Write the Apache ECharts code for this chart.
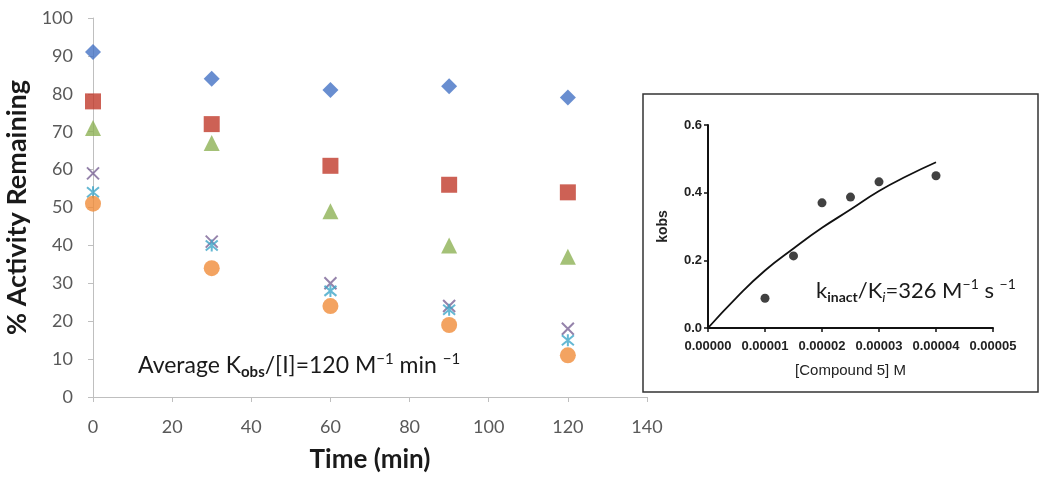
<!DOCTYPE html>
<html><head><meta charset="utf-8">
<script src="https://cdn.jsdelivr.net/npm/echarts@6/dist/echarts.min.js"></script>
<style>html,body{margin:0;padding:0;background:#fff}#c{width:1050px;height:480px}</style>
</head><body><div id="c"></div>
<script>
// Main chart data
const timePoints = [0, 30, 60, 90, 120];
const seriesBlue   = [91, 84, 81, 82, 79];
const seriesRed    = [78, 72, 61, 56, 54];
const seriesGreen  = [71, 67, 49, 40, 37];
const seriesPurple = [59, 41, 30, 24, 18];
const seriesCyan   = [54, 40, 28, 23, 15];
const seriesOrange = [51, 34, 24, 19, 11];
// Inset data
const concX   = [0.00001, 0.000015, 0.00002, 0.000025, 0.00003, 0.00004];
const kobsY   = [0.088, 0.213, 0.37, 0.387, 0.432, 0.45];
const fitX    = [0, 0.000005, 0.00001, 0.000015, 0.00002, 0.000025, 0.00003, 0.000035, 0.00004];
const fitY    = [0, 0.09, 0.17, 0.235, 0.296, 0.35, 0.405, 0.45, 0.49];

const pair = (xs, ys) => xs.map((x, i) => [x, ys[i]]);
const FONT = 'Lato';
const xPath = 'path://M0,0L10,10M10,0L0,10';
const starPath = 'path://M0,0L10,10M10,0L0,10M5,-1L5,11';

const chart = echarts.init(document.getElementById('c'));
const mk = (name, data, symbol, size, color, stroke) => ({
  name, type: 'scatter', xAxisIndex: 0, yAxisIndex: 0,
  data: pair(timePoints, data), symbol, symbolSize: size,
  itemStyle: stroke ? {color: 'rgba(0,0,0,0)', borderColor: color, borderWidth: 2} : {color},
  emphasis: {disabled: true}
});

chart.setOption({
  animation: false,
  backgroundColor: '#fff',
  grid: [
    {left: 93, right: 403, top: 18, bottom: 83, containLabel: false, outerBoundsMode: 'none'},
    {left: 708, right: 57, top: 125, bottom: 152, containLabel: false, outerBoundsMode: 'none'}
  ],
  xAxis: [
    {gridIndex: 0, type: 'value', min: 0, max: 140, interval: 20,
     name: 'Time (min)', nameLocation: 'middle', nameGap: 50,
     nameTextStyle: {fontFamily: FONT, fontWeight: 'bold', fontSize: 26, color: '#1a1a1a'},
     axisLine: {lineStyle: {color: '#bfbfbf', width: 1}},
     axisTick: {show: true, inside: false, length: 5, lineStyle: {color: '#bfbfbf'}},
     axisLabel: {fontFamily: FONT, fontSize: 18, color: '#595959', margin: 21},
     splitLine: {show: false}},
    {gridIndex: 1, type: 'value', min: 0, max: 0.00005, interval: 0.00001,
     name: '[Compound 5] M', nameLocation: 'middle', nameGap: 35,
     nameTextStyle: {fontFamily: 'Liberation Sans', fontSize: 15, color: '#222'},
     axisLine: {lineStyle: {color: '#111', width: 2}},
     axisTick: {show: true, length: 4, lineStyle: {color: '#111', width: 1.5}},
     axisLabel: {fontFamily: 'Liberation Sans', fontWeight: 'bold', fontSize: 13, color: '#222', margin: 12,
       formatter: v => v.toFixed(5)},
     splitLine: {show: false}},
    ],
  yAxis: [
    {gridIndex: 0, type: 'value', min: 0, max: 100, interval: 10,
     name: '% Activity Remaining', nameLocation: 'middle', nameGap: 50,
     nameTextStyle: {fontFamily: FONT, fontWeight: 'bold', fontSize: 27, color: '#1a1a1a'},
     axisLine: {show: true, lineStyle: {color: '#bfbfbf', width: 1}},
     axisTick: {show: true, length: 5, lineStyle: {color: '#bfbfbf'}},
     axisLabel: {fontFamily: FONT, fontSize: 18, color: '#595959', margin: 20},
     splitLine: {show: false}},
    {gridIndex: 1, type: 'value', min: 0, max: 0.6, interval: 0.2,
     name: 'kobs', nameLocation: 'middle', nameGap: 38,
     nameTextStyle: {fontFamily: 'Liberation Sans', fontWeight: 'bold', fontSize: 14, color: '#222'},
     axisLine: {show: true, lineStyle: {color: '#111', width: 2}},
     axisTick: {show: true, length: 4, lineStyle: {color: '#111', width: 1.5}},
     axisLabel: {fontFamily: 'Liberation Sans', fontWeight: 'bold', fontSize: 13, color: '#222', margin: 6,
       formatter: v => v.toFixed(1)},
     splitLine: {show: false}}
  ],
  graphic: [
    {type: 'rect', z: -10, shape: {x: 643, y: 94, width: 395, height: 298},
     style: {fill: '#fff', stroke: '#333', lineWidth: 1.5}},
    {type: 'text', left: 138, top: 352, z: 10,
     style: {
       text: '{b|Average K}{sub|obs}{b|/[I]=120 M}{sup|−1}{b| min }{sup|−1}',
       rich: {
         b: {fontFamily: FONT, fontSize: 23, fill: '#1a1a1a', lineHeight: 30, verticalAlign: 'middle'},
         sub: {fontFamily: FONT, fontSize: 15, fontWeight: 'bold', fill: '#1a1a1a', padding: [13, 0, 0, 0], verticalAlign: 'middle'},
         sup: {fontFamily: FONT, fontSize: 15, fill: '#1a1a1a', padding: [0, 0, 13, 0], verticalAlign: 'middle'}
       }
     }},
    {type: 'text', left: 816, top: 277, z: 10,
     style: {
       text: '{b|k}{sub|inact}{b|/K}{subi|i}{b|=326 M}{sup|−1}{b| s }{sup|−1}',
       rich: {
         b: {fontFamily: FONT, fontSize: 22, fill: '#1a1a1a', lineHeight: 30, verticalAlign: 'middle'},
         sub: {fontFamily: FONT, fontSize: 14, fontWeight: 'bold', fill: '#1a1a1a', padding: [13, 0, 0, 0], verticalAlign: 'middle'},
         subi: {fontFamily: FONT, fontSize: 14, fontStyle: 'italic', fill: '#1a1a1a', padding: [13, 0, 0, 0], verticalAlign: 'middle'},
         sup: {fontFamily: FONT, fontSize: 14, fill: '#1a1a1a', padding: [0, 0, 13, 0], verticalAlign: 'middle'}
       }
     }}
  ],
  series: [
    mk('s1', seriesBlue, 'diamond', 16, '#4472C4'),
    mk('s2', seriesRed, 'rect', 16, '#C0392B'),
    mk('s3', seriesGreen, 'triangle', 16, '#8DB255'),
    mk('s4', seriesPurple, xPath, 12, '#7B6496', true),
    mk('s5', seriesCyan, starPath, 12, '#3FA6C8', true),
    mk('s6', seriesOrange, 'circle', 16, '#F08C3A'),
    {name: 'fit', type: 'line', xAxisIndex: 1, yAxisIndex: 1, data: pair(fitX, fitY),
     smooth: true, showSymbol: false, symbol: 'none',
     lineStyle: {color: '#111', width: 1.8}, z: 5, emphasis: {disabled: true}},
    {name: 'kobs', type: 'scatter', xAxisIndex: 1, yAxisIndex: 1, data: pair(concX, kobsY),
     symbol: 'circle', symbolSize: 9, itemStyle: {color: '#111'}, z: 6, emphasis: {disabled: true}}
  ]
});
</script></body></html>
